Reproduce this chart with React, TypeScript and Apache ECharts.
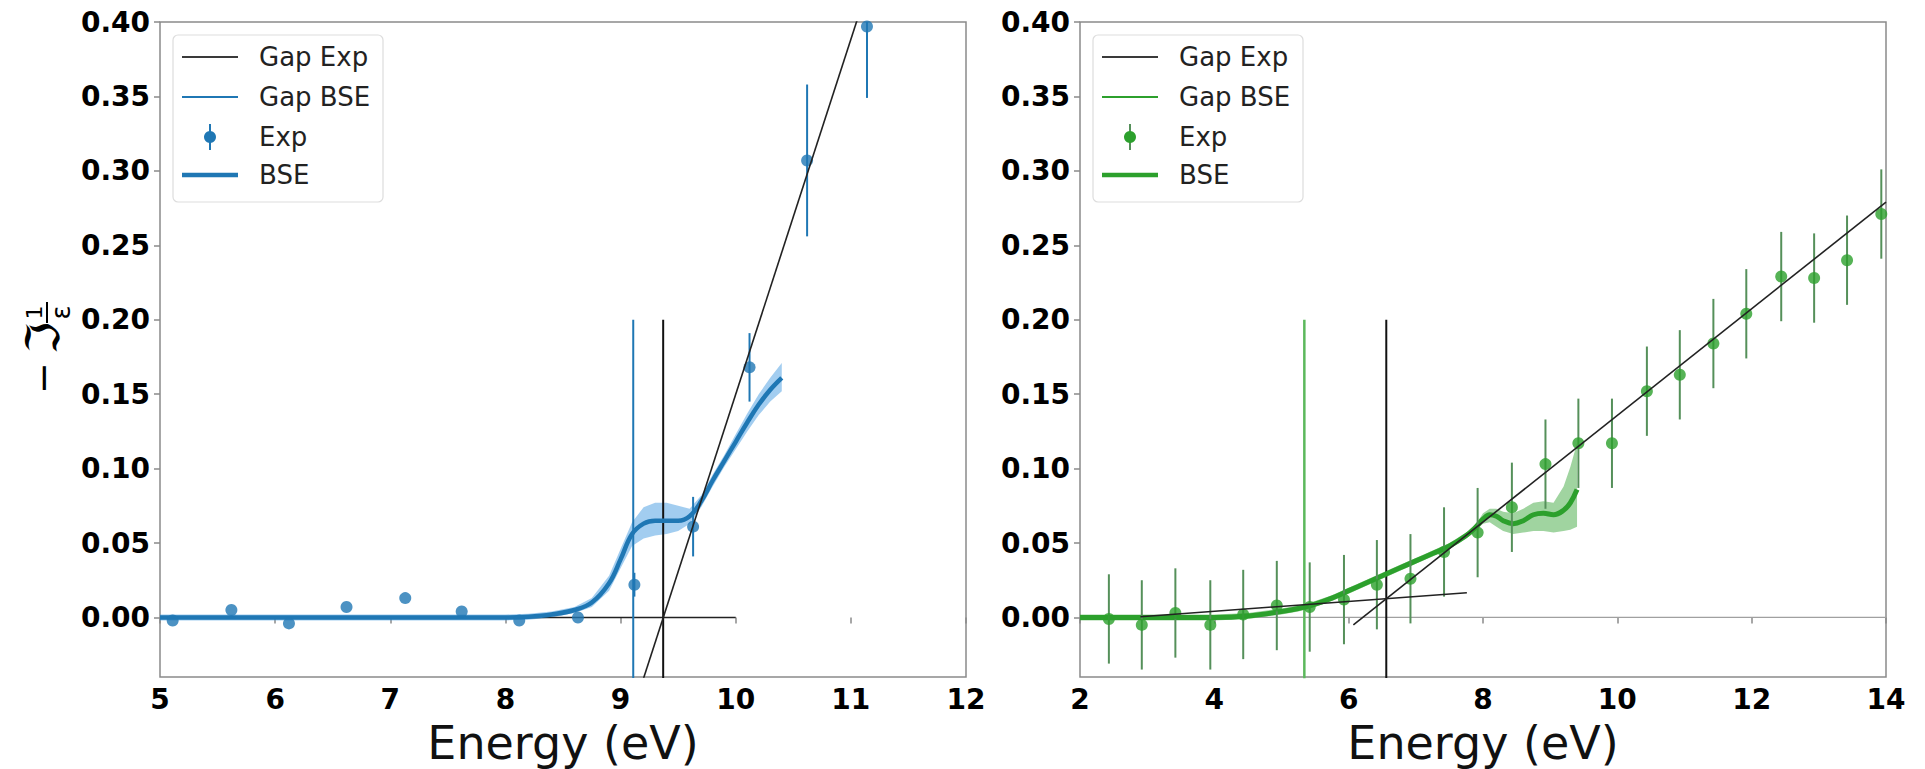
import React, { useEffect, useRef } from 'react';
import * as echarts from 'echarts';

// ---------------- data ----------------
// Left panel (blue)
const leftExpX = [5.11, 5.62, 6.12, 6.62, 7.13, 7.62, 8.12, 8.63, 9.12, 9.63, 10.12, 10.62, 11.14];
const leftExpY = [-0.002, 0.005, -0.004, 0.007, 0.013, 0.004, -0.002, 0.0, 0.022, 0.061, 0.168, 0.307, 0.397];
const leftExpErr = [0, 0, 0, 0, 0, 0, 0, 0, 0.008, 0.02, 0.023, 0.051, 0.048];

const leftBseX = [5.0, 5.5, 6.0, 6.5, 7.0, 7.5, 8.0, 8.2, 8.4, 8.6, 8.75, 8.9, 9.0, 9.1, 9.2, 9.3, 9.4, 9.5, 9.6, 9.7, 9.8, 9.9, 10.0, 10.1, 10.2, 10.3, 10.4];
const leftBseY = [0, 0, 0, 0, 0, 0, 0, 0.0005, 0.002, 0.005, 0.01, 0.023, 0.039, 0.056, 0.063, 0.065, 0.065, 0.065, 0.068, 0.078, 0.092, 0.105, 0.118, 0.131, 0.143, 0.153, 0.161];
const leftBseLo = [-0.002, -0.002, -0.002, -0.002, -0.002, -0.002, -0.002, -0.0015, 0.0, 0.003, 0.007, 0.018, 0.033, 0.048, 0.053, 0.055, 0.056, 0.058, 0.063, 0.074, 0.088, 0.101, 0.113, 0.125, 0.136, 0.145, 0.152];
const leftBseHi = [0.002, 0.002, 0.002, 0.002, 0.002, 0.002, 0.002, 0.0025, 0.004, 0.007, 0.013, 0.028, 0.046, 0.064, 0.074, 0.077, 0.077, 0.075, 0.073, 0.082, 0.096, 0.109, 0.123, 0.137, 0.15, 0.161, 0.171];

const leftGapExpX = 9.37;
const leftGapBseX = 9.11;
const leftBaseLineX = [5.0, 10.0];
const leftBaseLineY = [0.0, 0.0];
const leftFitLineX = [9.1, 11.2];
const leftFitLineY = [-0.0646, 0.436];

// Right panel (green)
const rightExpX = [2.43, 2.92, 3.42, 3.94, 4.43, 4.93, 5.42, 5.93, 6.42, 6.92, 7.42, 7.92, 8.43, 8.93, 9.42, 9.92, 10.44, 10.93, 11.43, 11.92, 12.44, 12.93, 13.42, 13.93];
const rightExpY = [-0.001, -0.005, 0.003, -0.005, 0.002, 0.008, 0.007, 0.012, 0.022, 0.026, 0.044, 0.057, 0.074, 0.103, 0.117, 0.117, 0.152, 0.163, 0.184, 0.204, 0.229, 0.228, 0.24, 0.271];
const rightExpErr = [0.03, 0.03, 0.03, 0.03, 0.03, 0.03, 0.03, 0.03, 0.03, 0.03, 0.03, 0.03, 0.03, 0.03, 0.03, 0.03, 0.03, 0.03, 0.03, 0.03, 0.03, 0.03, 0.03, 0.03];

const rightBseX = [2.0, 2.5, 3.0, 3.5, 4.0, 4.5, 5.0, 5.25, 5.5, 5.75, 6.0, 6.25, 6.5, 6.75, 7.0, 7.25, 7.5, 7.75, 7.9, 8.0, 8.1, 8.2, 8.3, 8.45, 8.6, 8.75, 8.9, 9.05, 9.2, 9.3, 9.4];
const rightBseY = [0, 0, 0, 0, 0, 0.001, 0.004, 0.006, 0.009, 0.013, 0.018, 0.023, 0.028, 0.033, 0.038, 0.043, 0.048, 0.055, 0.061, 0.066, 0.069, 0.068, 0.065, 0.063, 0.065, 0.069, 0.07, 0.069, 0.072, 0.077, 0.086];
const rightBseLo = [-0.002, -0.002, -0.002, -0.002, -0.002, -0.001, 0.002, 0.004, 0.007, 0.011, 0.016, 0.021, 0.026, 0.031, 0.036, 0.041, 0.046, 0.053, 0.059, 0.063, 0.064, 0.061, 0.058, 0.056, 0.057, 0.058, 0.058, 0.057, 0.058, 0.059, 0.061];
const rightBseHi = [0.002, 0.002, 0.002, 0.002, 0.002, 0.003, 0.006, 0.008, 0.011, 0.015, 0.02, 0.025, 0.03, 0.035, 0.04, 0.045, 0.05, 0.057, 0.063, 0.07, 0.073, 0.073, 0.071, 0.07, 0.073, 0.077, 0.078, 0.077, 0.088, 0.101, 0.117];

const rightGapExpX = 6.56;
const rightGapBseX = 5.34;
const rightBaseLineX = [2.9, 7.76];
const rightBaseLineY = [0.0005, 0.0166];
const rightFitLineX = [6.07, 14.0];
const rightFitLineY = [-0.005, 0.279];
const rightZeroX = [2.0, 14.0];
const rightZeroY = [0.0, 0.0];

const gapLineY = [-0.05, 0.2];

const yTicks = [0, 0.05, 0.1, 0.15, 0.2, 0.25, 0.3, 0.35, 0.4];
const legendLabels = ['Gap Exp', 'Gap BSE', 'Exp', 'BSE'];
const xTitle = 'Energy (eV)';

// ---------------- styles ----------------
const BLUE = '#1f77b4';
const GREEN = '#2ca02c';
const GREEN_ERR = '#55905a';
const FONT = 'DejaVu Sans';
const SPINE = '#8a8a8a';
const GRID_TOP = 22;
const GRID_H = 655;
const GRID_W = 806;
const LEFT_X = 160;
const RIGHT_X = 1080;

const zip = (xs: number[], ys: number[]) => xs.map((x, i) => [x, ys[i]]);

function segment(idx: number, xs: number[], ys: number[], color: string, width: number, z: number) {
  return {
    type: 'line',
    xAxisIndex: idx,
    yAxisIndex: idx,
    data: zip(xs, ys),
    symbol: 'none',
    silent: true,
    clip: true,
    z,
    lineStyle: { color, width },
  };
}

function band(idx: number, xs: number[], lo: number[], hi: number[], color: string) {
  return {
    type: 'custom',
    xAxisIndex: idx,
    yAxisIndex: idx,
    silent: true,
    z: 1,
    data: [[xs[0], lo[0]]],
    encode: { x: 0, y: 1 },
    renderItem: (_params: any, api: any) => {
      const pts: number[][] = [];
      for (let i = 0; i < xs.length; i++) pts.push(api.coord([xs[i], hi[i]]));
      for (let i = xs.length - 1; i >= 0; i--) pts.push(api.coord([xs[i], lo[i]]));
      return { type: 'polygon', shape: { points: pts, smooth: 0 }, style: { fill: color } };
    },
  };
}

function errorBars(idx: number, xs: number[], ys: number[], es: number[], color: string) {
  return {
    type: 'custom',
    xAxisIndex: idx,
    yAxisIndex: idx,
    silent: true,
    z: 4,
    data: xs.map((x, i) => [x, ys[i], es[i]]),
    encode: { x: 0, y: 1 },
    renderItem: (params: any, api: any) => {
      const x = api.value(0);
      const y = api.value(1);
      const e = api.value(2);
      if (!e) return null;
      const cs = params.coordSys;
      const a = api.coord([x, y + e]);
      const b = api.coord([x, y - e]);
      const top = Math.max(a[1], cs.y);
      const bot = Math.min(b[1], cs.y + cs.height);
      return {
        type: 'line',
        shape: { x1: a[0], y1: top, x2: a[0], y2: bot },
        style: { stroke: color, lineWidth: 2 },
      };
    },
  };
}

function legend(ax: number, color: string, errColor: string) {
  const rows = [57, 97, 137, 175];
  const hx1 = ax + 22;
  const hx2 = ax + 78;
  const els: any[] = [
    {
      type: 'rect',
      shape: { x: ax + 13, y: 35, width: 210, height: 167, r: 5 },
      style: { fill: 'rgba(255,255,255,0.85)', stroke: '#dddddd', lineWidth: 1.2 },
      z: 50,
    },
    { type: 'line', shape: { x1: hx1, y1: rows[0], x2: hx2, y2: rows[0] }, style: { stroke: '#3a3a3a', lineWidth: 2.2 }, z: 51 },
    { type: 'line', shape: { x1: hx1, y1: rows[1], x2: hx2, y2: rows[1] }, style: { stroke: color, lineWidth: 1.8 }, z: 51 },
    { type: 'line', shape: { x1: (hx1 + hx2) / 2, y1: rows[2] - 13, x2: (hx1 + hx2) / 2, y2: rows[2] + 13 }, style: { stroke: errColor, lineWidth: 2 }, z: 51 },
    { type: 'circle', shape: { cx: (hx1 + hx2) / 2, cy: rows[2], r: 6 }, style: { fill: color }, z: 52 },
    { type: 'line', shape: { x1: hx1, y1: rows[3], x2: hx2, y2: rows[3] }, style: { stroke: color, lineWidth: 4.5 }, z: 51 },
  ];
  legendLabels.forEach((t, i) => {
    els.push({
      type: 'text',
      x: ax + 99,
      y: rows[i],
      z: 52,
      style: { text: t, fontSize: 26, fontFamily: FONT, fill: '#222', align: 'left', verticalAlign: 'middle' },
    });
  });
  return els;
}

function xAxis(idx: number, min: number, max: number, interval: number) {
  return {
    type: 'value',
    gridIndex: idx,
    min,
    max,
    interval,
    name: xTitle,
    nameLocation: 'middle',
    nameGap: 34,
    nameTextStyle: { fontSize: 46, fontFamily: FONT, color: '#111', lineHeight: 50 },
    axisLine: { show: false },
    axisTick: { show: true, length: 6, lineStyle: { color: SPINE, width: 1.5 } },
    axisLabel: { fontSize: 28, fontWeight: 'bold', fontFamily: FONT, color: '#000', margin: 8 },
    splitLine: { show: false },
  };
}

function yAxis(idx: number) {
  return {
    type: 'value',
    gridIndex: idx,
    min: -0.04,
    max: 0.4,
    axisLine: { show: false },
    axisTick: { show: true, length: 6, customValues: yTicks, lineStyle: { color: SPINE, width: 1.5 } },
    axisLabel: {
      fontSize: 28,
      fontWeight: 'bold',
      fontFamily: FONT,
      color: '#000',
      margin: 10,
      customValues: yTicks,
      formatter: (v: number) => v.toFixed(2),
    },
    splitLine: { show: false },
  };
}

function grid(left: number) {
  return {
    left,
    top: GRID_TOP,
    width: GRID_W,
    height: GRID_H,
    show: true,
    borderColor: SPINE,
    borderWidth: 1.5,
    backgroundColor: 'transparent',
    containLabel: false,
    outerBoundsMode: 'none',
  };
}

export default function App() {
  const ref = useRef<HTMLDivElement>(null);
  useEffect(() => {
    if (!ref.current) return;
    const chart = echarts.init(ref.current, null, { renderer: 'svg' });
    const option: any = {
      animation: false,
      backgroundColor: '#ffffff',
      grid: [grid(LEFT_X), grid(RIGHT_X)],
      xAxis: [xAxis(0, 5, 12, 1), xAxis(1, 2, 14, 2)],
      yAxis: [yAxis(0), yAxis(1)],
      series: [
        // left
        band(0, leftBseX, leftBseLo, leftBseHi, 'rgba(70,155,225,0.5)'),
        segment(0, leftBaseLineX, leftBaseLineY, '#222', 1.6, 2),
        segment(0, [leftGapExpX, leftGapExpX], gapLineY, '#111', 2, 2),
        segment(0, [leftGapBseX, leftGapBseX], gapLineY, BLUE, 2, 2),
        { ...segment(0, leftBseX, leftBseY, BLUE, 4.5, 3), smooth: 0.4 },
        errorBars(0, leftExpX, leftExpY, leftExpErr, BLUE),
        {
          type: 'scatter', xAxisIndex: 0, yAxisIndex: 0, silent: true, z: 5,
          data: zip(leftExpX, leftExpY), symbolSize: 12, itemStyle: { color: BLUE },
        },
        segment(0, leftFitLineX, leftFitLineY, '#222', 1.6, 6),
        // right
        segment(1, rightZeroX, rightZeroY, '#a0a0a0', 1.2, 1),
        band(1, rightBseX, rightBseLo, rightBseHi, 'rgba(44,160,44,0.45)'),
        segment(1, [rightGapExpX, rightGapExpX], gapLineY, '#111', 2, 2),
        segment(1, [rightGapBseX, rightGapBseX], gapLineY, '#5cb85c', 2.5, 2),
        { ...segment(1, rightBseX, rightBseY, GREEN, 5, 3), smooth: 0.4 },
        errorBars(1, rightExpX, rightExpY, rightExpErr, GREEN_ERR),
        {
          type: 'scatter', xAxisIndex: 1, yAxisIndex: 1, silent: true, z: 5,
          data: zip(rightExpX, rightExpY), symbolSize: 12, itemStyle: { color: GREEN },
        },
        segment(1, rightBaseLineX, rightBaseLineY, '#222', 1.6, 6),
        segment(1, rightFitLineX, rightFitLineY, '#222', 1.6, 6),
      ],
      graphic: [
        ...legend(LEFT_X, BLUE, BLUE),
        ...legend(RIGHT_X, GREEN, GREEN_ERR),
        {
          type: 'group',
          x: 44,
          y: 347,
          rotation: Math.PI / 2,
          children: [
            { type: 'text', x: -31, y: -1, style: { text: '−', fontSize: 38, fontFamily: FONT, fill: '#000', align: 'center', verticalAlign: 'middle' } },
            { type: 'text', x: 9, y: -1, style: { text: 'ℑ', fontSize: 46, fontFamily: FONT, fill: '#000', align: 'center', verticalAlign: 'middle' } },
            { type: 'line', shape: { x1: 24, y1: 3, x2: 45, y2: 3 }, style: { stroke: '#000', lineWidth: 2 } },
            { type: 'text', x: 34.5, y: -10, style: { text: '1', fontSize: 22, fontFamily: FONT, fill: '#000', align: 'center', verticalAlign: 'middle' } },
            { type: 'text', x: 34.5, y: 17, style: { text: 'ε', fontSize: 26, fontFamily: FONT, fill: '#000', align: 'center', verticalAlign: 'middle' } },
          ],
        },
      ],
    };
    chart.setOption(option);
    return () => chart.dispose();
  }, []);
  return <div ref={ref} style={{ position: 'absolute', left: 0, top: 0, width: 1925, height: 769 }} />;
}
